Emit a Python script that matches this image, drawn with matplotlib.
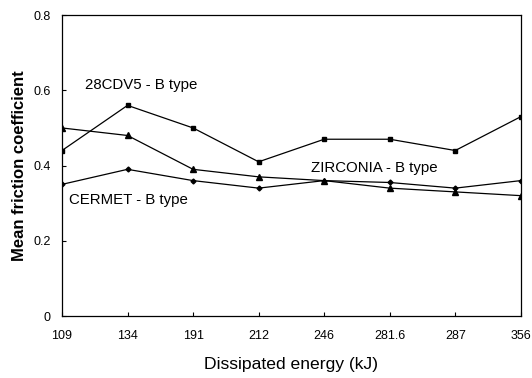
import matplotlib
matplotlib.use("Agg")
import matplotlib.pyplot as plt

energy_labels = ["109", "134", "191", "212", "246", "281.6", "287", "356"]
cdv5 = [0.44, 0.56, 0.50, 0.41, 0.47, 0.47, 0.44, 0.53]
zirconia = [0.50, 0.48, 0.39, 0.37, 0.36, 0.34, 0.33, 0.32]
cermet = [0.35, 0.39, 0.36, 0.34, 0.36, 0.355, 0.34, 0.36]
y_ticks = [0, 0.2, 0.4, 0.6, 0.8]
y_tick_labels = ["0", "0.2", "0.4", "0.6", "0.8"]

plt.rcParams['font.family'] = ['Liberation Sans', 'DejaVu Sans']

fig = plt.figure(figsize=(5.32, 3.78), dpi=100)
ax = fig.add_axes([0.1165, 0.164, 0.8625, 0.796])

x = list(range(len(energy_labels)))
lw = 0.9
ax.plot(x, cdv5, color='black', lw=lw, marker='s', ms=3.5)
ax.plot(x, zirconia, color='black', lw=lw, marker='^', ms=4)
ax.plot(x, cermet, color='black', lw=lw, marker='D', ms=2.5)

ax.text(0.35, 0.614, "28CDV5 - B type", fontsize=10.8, va='center', ha='left')
ax.text(3.8, 0.393, "ZIRCONIA - B type", fontsize=10.8, va='center', ha='left')
ax.text(0.11, 0.308, "CERMET - B type", fontsize=10.8, va='center', ha='left')

ax.set_xlim(0, len(energy_labels) - 1)
ax.set_ylim(0, 0.8)
ax.set_xticks(x)
ax.set_xticklabels(energy_labels)
ax.set_yticks(y_ticks)
ax.set_yticklabels(y_tick_labels)
ax.tick_params(direction='in', length=3, width=0.8, labelsize=9, pad=8)
ax.tick_params(axis='x', pad=10)
for s in ax.spines.values():
    s.set_linewidth(0.9)

ax.set_xlabel("Dissipated energy (kJ)", fontsize=12.6, labelpad=11)
ax.set_ylabel("Mean friction coefficient", fontsize=12, fontweight='bold', labelpad=5)

fig.savefig("out.png", dpi=100)
